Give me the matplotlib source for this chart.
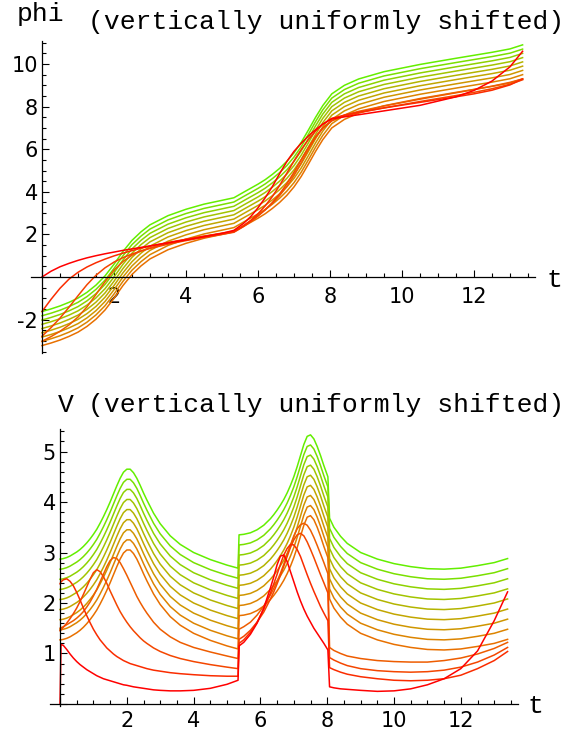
import numpy as np
import matplotlib
matplotlib.use("Agg")
import matplotlib.pyplot as plt
from matplotlib.ticker import MultipleLocator, FuncFormatter

plt.rcParams["axes.unicode_minus"] = False

# time grid for the V curves (jumps at t=5.33 and t=8.05)
t_v = [0, 0.03, 0.1, 0.2, 0.3, 0.4, 0.5, 0.6, 0.7, 0.8, 0.9, 1.0, 1.1, 1.2,
       1.3, 1.4, 1.5, 1.6, 1.7, 1.8, 1.9, 2.0, 2.1, 2.2, 2.3, 2.4, 2.5, 2.6,
       2.8, 3.0, 3.3, 3.6, 4.0, 4.5, 5.0, 5.33, 5.36, 5.5, 5.7, 5.9, 6.1,
       6.3, 6.4, 6.5, 6.6, 6.7, 6.8, 6.9, 7.0, 7.1, 7.2, 7.3, 7.4, 7.5, 7.6,
       7.7, 7.8, 7.9, 8.02, 8.07, 8.2, 8.4, 8.6, 9.0, 9.5, 10.0, 10.5, 11.0,
       11.5, 12.0, 12.5, 13.0, 13.4]

# topmost (green) V curve; curves 4..12 are this one shifted down by v_shift
v_top = [2.87, 2.87, 2.88, 2.9, 2.93, 2.97, 3.01, 3.06, 3.12, 3.19, 3.27,
         3.36, 3.46, 3.58, 3.71, 3.85, 4.0, 4.16, 4.32, 4.47, 4.59, 4.65,
         4.65, 4.58, 4.47, 4.33, 4.18, 4.04, 3.78, 3.57, 3.33, 3.16, 3.0,
         2.86, 2.75, 2.69, 3.35, 3.36, 3.39, 3.45, 3.54, 3.67, 3.75, 3.84,
         3.94, 4.05, 4.18, 4.33, 4.5, 4.7, 4.92, 5.14, 5.3, 5.33, 5.25, 5.1,
         4.92, 4.72, 4.5, 3.68, 3.5, 3.32, 3.18, 3.0, 2.87, 2.78, 2.72, 2.68,
         2.67, 2.69, 2.74, 2.8, 2.88]
v_shift = 0.2

v_k0 = [0.0, 1.18, 1.16, 1.08, 0.99, 0.91, 0.84, 0.78, 0.73, 0.68, 0.64, 0.6,
        0.56, 0.53, 0.5, 0.48, 0.46, 0.44, 0.42, 0.4, 0.38, 0.37, 0.355, 0.34,
        0.33, 0.32, 0.31, 0.3, 0.28, 0.27, 0.26, 0.26, 0.27, 0.31, 0.39, 0.47,
        1.15, 1.22, 1.38, 1.6, 1.9, 2.3, 2.52, 2.76, 2.93, 2.95, 2.82, 2.62,
        2.42, 2.22, 2.04, 1.88, 1.74, 1.62, 1.5, 1.4, 1.3, 1.2, 1.07, 0.34,
        0.32, 0.3, 0.29, 0.27, 0.25, 0.26, 0.3, 0.38, 0.5, 0.7, 1.05, 1.65,
        2.22]
v_k1 = [2.38, 2.42, 2.46, 2.48, 2.43, 2.34, 2.21, 2.06, 1.9, 1.75, 1.61, 1.48,
        1.37, 1.27, 1.19, 1.11, 1.05, 0.99, 0.94, 0.9, 0.86, 0.83, 0.8, 0.78,
        0.76, 0.74, 0.72, 0.7, 0.67, 0.65, 0.62, 0.6, 0.58, 0.56, 0.55, 0.55,
        1.2, 1.27, 1.42, 1.62, 1.88, 2.2, 2.38, 2.57, 2.77, 2.95, 3.08, 3.16,
        3.15, 3.06, 2.92, 2.74, 2.56, 2.39, 2.23, 2.08, 1.93, 1.8, 1.65, 0.72,
        0.68, 0.63, 0.59, 0.54, 0.5, 0.47, 0.46, 0.47, 0.5, 0.57, 0.7, 0.86,
        1.04]
v_k2 = [1.45, 1.47, 1.52, 1.6, 1.69, 1.79, 1.9, 2.03, 2.17, 2.32, 2.47, 2.6,
        2.66, 2.62, 2.52, 2.39, 2.24, 2.1, 1.96, 1.83, 1.72, 1.62, 1.53, 1.45,
        1.38, 1.31, 1.25, 1.2, 1.11, 1.04, 0.96, 0.9, 0.84, 0.78, 0.73, 0.7,
        1.28, 1.34, 1.46, 1.62, 1.82, 2.08, 2.22, 2.38, 2.55, 2.73, 2.92, 3.1,
        3.25, 3.35, 3.38, 3.33, 3.21, 3.06, 2.9, 2.73, 2.56, 2.4, 2.2, 0.92,
        0.87, 0.81, 0.76, 0.7, 0.66, 0.64, 0.63, 0.64, 0.67, 0.73, 0.83, 0.97,
        1.12]
v_k3 = [1.5, 1.51, 1.53, 1.57, 1.61, 1.65, 1.7, 1.76, 1.83, 1.92, 2.02, 2.14,
        2.27, 2.42, 2.57, 2.72, 2.84, 2.9, 2.88, 2.8, 2.68, 2.55, 2.41, 2.27,
        2.13, 2.01, 1.9, 1.8, 1.62, 1.48, 1.33, 1.22, 1.12, 1.03, 0.95, 0.9,
        1.48, 1.53, 1.62, 1.76, 1.94, 2.16, 2.29, 2.43, 2.59, 2.77, 2.96, 3.15,
        3.33, 3.47, 3.55, 3.58, 3.54, 3.44, 3.3, 3.14, 2.97, 2.8, 2.58, 1.12,
        1.06, 1.0, 0.95, 0.9, 0.86, 0.84, 0.83, 0.83, 0.86, 0.91, 0.99, 1.1,
        1.22]

# time grid for the phi curves
t_phi = [0, 0.25, 0.5, 0.75, 1.0, 1.25, 1.5, 1.75, 2.0, 2.25, 2.5, 2.75, 3.0,
         3.5, 4.0, 4.5, 5.0, 5.33, 5.6, 5.8, 6.0, 6.2, 6.4, 6.6, 6.8, 7.0,
         7.2, 7.4, 7.6, 7.8, 8.05, 8.4, 8.8, 9.5, 10.5, 11.5, 12.0, 12.5,
         13.0, 13.35]

phi_top = [-1.62, -1.5, -1.36, -1.19, -0.99, -0.72, -0.38, 0.05, 0.6, 1.2,
           1.72, 2.12, 2.45, 2.88, 3.18, 3.42, 3.6, 3.72, 3.98, 4.17, 4.36,
           4.57, 4.82, 5.1, 5.43, 5.83, 6.32, 6.9, 7.5, 8.05, 8.6, 9.0, 9.3,
           9.64, 9.98, 10.27, 10.41, 10.55, 10.71, 10.9]
phi_shift = 0.2

phi_k0 = [0.0, 0.27, 0.48, 0.64, 0.78, 0.9, 1.0, 1.09, 1.17, 1.25, 1.32, 1.39,
          1.46, 1.6, 1.74, 1.89, 2.05, 2.19, 2.52, 2.84, 3.25, 3.72, 4.25,
          4.85, 5.42, 5.9, 6.28, 6.62, 6.92, 7.18, 7.43, 7.52, 7.62, 7.8,
          8.06, 8.46, 8.76, 9.2, 9.87, 10.6]
phi_k1 = [-1.62, -1.05, -0.53, -0.1, 0.22, 0.47, 0.67, 0.84, 0.99, 1.12, 1.24,
          1.35, 1.45, 1.62, 1.77, 1.91, 2.04, 2.13, 2.4, 2.66, 2.97, 3.34,
          3.78, 4.3, 4.87, 5.45, 5.98, 6.45, 6.85, 7.17, 7.45, 7.6, 7.74,
          7.94, 8.2, 8.46, 8.6, 8.77, 9.02, 9.3]
phi_k2 = [-2.78, -2.38, -1.93, -1.42, -0.88, -0.36, 0.08, 0.43, 0.7, 0.91,
          1.08, 1.22, 1.34, 1.54, 1.71, 1.86, 2.0, 2.1, 2.37, 2.6, 2.86, 3.16,
          3.5, 3.9, 4.37, 4.92, 5.5, 6.08, 6.6, 7.0, 7.35, 7.55, 7.71, 7.94,
          8.24, 8.52, 8.67, 8.84, 9.05, 9.26]
phi_k3 = [-3.02, -2.8, -2.55, -2.25, -1.88, -1.4, -0.82, -0.22, 0.32, 0.73,
          1.02, 1.22, 1.37, 1.59, 1.77, 1.92, 2.06, 2.15, 2.42, 2.64, 2.88,
          3.15, 3.46, 3.82, 4.25, 4.76, 5.35, 5.97, 6.55, 6.98, 7.33, 7.6,
          7.78, 8.03, 8.35, 8.65, 8.8, 8.96, 9.14, 9.3]

# red (index 0) through orange and olive to green (index 12)
colors = ["#ff0000", "#fa2c00", "#f44600", "#ee5c00", "#e87000", "#dc8400",
          "#cf9600", "#c2a600", "#b3b400", "#a2c400", "#8ed200", "#7ae000",
          "#64ee00"]
n_curves = len(colors)

W, H = 565, 732
fig = plt.figure(figsize=(W / 100, H / 100), dpi=100)


def axes_px(left, top, right, bottom):
    return fig.add_axes([left / W, 1 - bottom / H, (right - left) / W, (bottom - top) / H])


def no_zero(v, pos):
    if abs(v) < 1e-9:
        return ""
    return "%g" % v


def style(ax, xmaj, xmin, ymaj, ymin, xpad):
    for s in ["top", "right"]:
        ax.spines[s].set_visible(False)
    for s in ["left", "bottom"]:
        ax.spines[s].set_position(("data", 0))
        ax.spines[s].set_linewidth(0.9)
    ax.xaxis.set_major_locator(MultipleLocator(xmaj))
    ax.xaxis.set_minor_locator(MultipleLocator(xmin))
    ax.yaxis.set_major_locator(MultipleLocator(ymaj))
    ax.yaxis.set_minor_locator(MultipleLocator(ymin))
    ax.xaxis.set_major_formatter(FuncFormatter(no_zero))
    ax.yaxis.set_major_formatter(FuncFormatter(no_zero))
    ax.tick_params(which="both", direction="in", width=0.8, labelsize=15)
    ax.tick_params(which="major", length=5)
    ax.tick_params(which="minor", length=3)
    ax.tick_params(axis="x", pad=xpad)
    ax.tick_params(axis="y", pad=3)
    ax.patch.set_alpha(0)


def label(x, y, s, ha="left"):
    fig.text(x / W, 1 - y / H, s, family="Liberation Mono", fontsize=19,
             ha=ha, va="baseline")


# phi panel
ax1 = axes_px(31.2, 40.6, 535.2, 352.6)
ax1.set_xlim(-0.3, 13.7)
ax1.set_ylim(-3.55, 11.1)
phi_red = [phi_k0, phi_k1, phi_k2, phi_k3]
for k in range(n_curves - 1, -1, -1):
    if k >= 4:
        y = np.array(phi_top) - phi_shift * (n_curves - 1 - k)
    else:
        y = phi_red[k]
    ax1.plot(t_phi, y, color=colors[k], lw=1.1, clip_on=False)
style(ax1, 2, 0.5, 2, 0.5, 7)

# V panel
ax2 = axes_px(50, 428.8, 517.6, 705.5)
ax2.set_xlim(-0.3, 13.7)
ax2.set_ylim(-0.03, 5.45)
v_red = [v_k0, v_k1, v_k2, v_k3]
for k in range(n_curves - 1, -1, -1):
    if k >= 4:
        y = np.array(v_top) - v_shift * (n_curves - 1 - k)
    else:
        y = v_red[k]
    ax2.plot(t_v, y, color=colors[k], lw=1.1, clip_on=False)
style(ax2, 2, 0.5, 1, 0.2, 5)

label(41, 21, "phi", ha="center")
label(88, 29, "(vertically uniformly shifted)")
label(554, 287, "t", ha="center")
label(66, 412, "V", ha="center")
label(88, 412, "(vertically uniformly shifted)")
label(535, 713, "t", ha="center")

fig.savefig("out.png", dpi=100)
